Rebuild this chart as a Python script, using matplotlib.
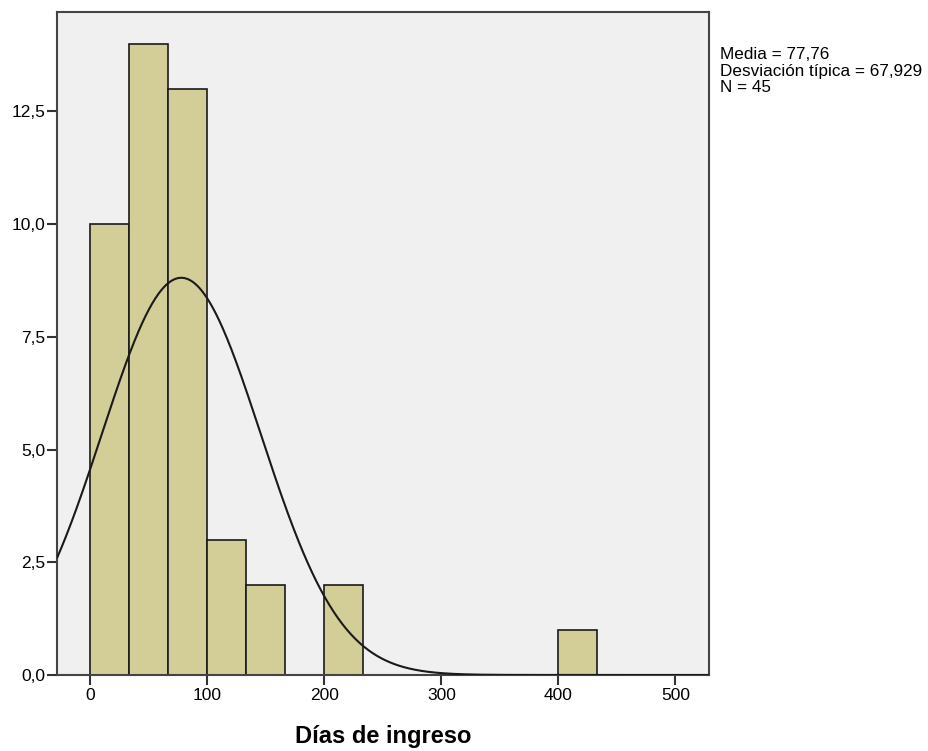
import numpy as np
import matplotlib.pyplot as plt

plt.rcParams['font.family'] = ['Liberation Sans', 'DejaVu Sans']

# histogram of "Días de ingreso" (bins of 100/3 days starting at 0)
bin_width = 100 / 3
counts = [10, 14, 13, 3, 2, 0, 2, 0, 0, 0, 0, 0, 1]
media = 77.76
desv = 67.929
n = 45

fig = plt.figure(figsize=(9.29, 7.51), dpi=100)
ax = fig.add_axes([0.0617, 0.1012, 0.7015, 0.8832])
ax.set_facecolor('#f0f0f0')

lefts = np.arange(len(counts)) * bin_width
ax.bar(lefts, counts, width=bin_width, align='edge', color='#d3ce97',
       edgecolor='#1a1a1a', linewidth=1.2, zorder=2)

xmin, xmax = -28.2, 528.8
xs = np.linspace(xmin, xmax, 600)
curva = n * bin_width * np.exp(-0.5 * ((xs - media) / desv) ** 2) / (desv * np.sqrt(2 * np.pi))
ax.plot(xs, curva, color='#1a1a1a', linewidth=1.5, zorder=3)

ax.set_xlim(xmin, xmax)
ax.set_ylim(0, 14.71)
ax.set_xticks([0, 100, 200, 300, 400, 500])
ax.set_yticks([0, 2.5, 5, 7.5, 10, 12.5])
ax.set_yticklabels([f'{v:.1f}'.replace('.', ',') for v in [0, 2.5, 5, 7.5, 10, 12.5]])
ax.tick_params(axis='both', direction='out', length=7.5, width=1.5, labelsize=12.5, color='#333333')
ax.tick_params(axis='y', pad=1)
ax.tick_params(axis='x', pad=2)
for s in ax.spines.values():
    s.set_linewidth(1.5)
    s.set_color('#444444')

ax.set_xlabel('Días de ingreso', fontsize=17, fontweight='bold', labelpad=16)

fig.text(0.775, 0.937,
         'Media = 77,76\nDesviación típica = 67,929\nN = 45',
         fontsize=12.3, va='top', ha='left', linespacing=1.13)

fig.savefig('out.png', dpi=100)
